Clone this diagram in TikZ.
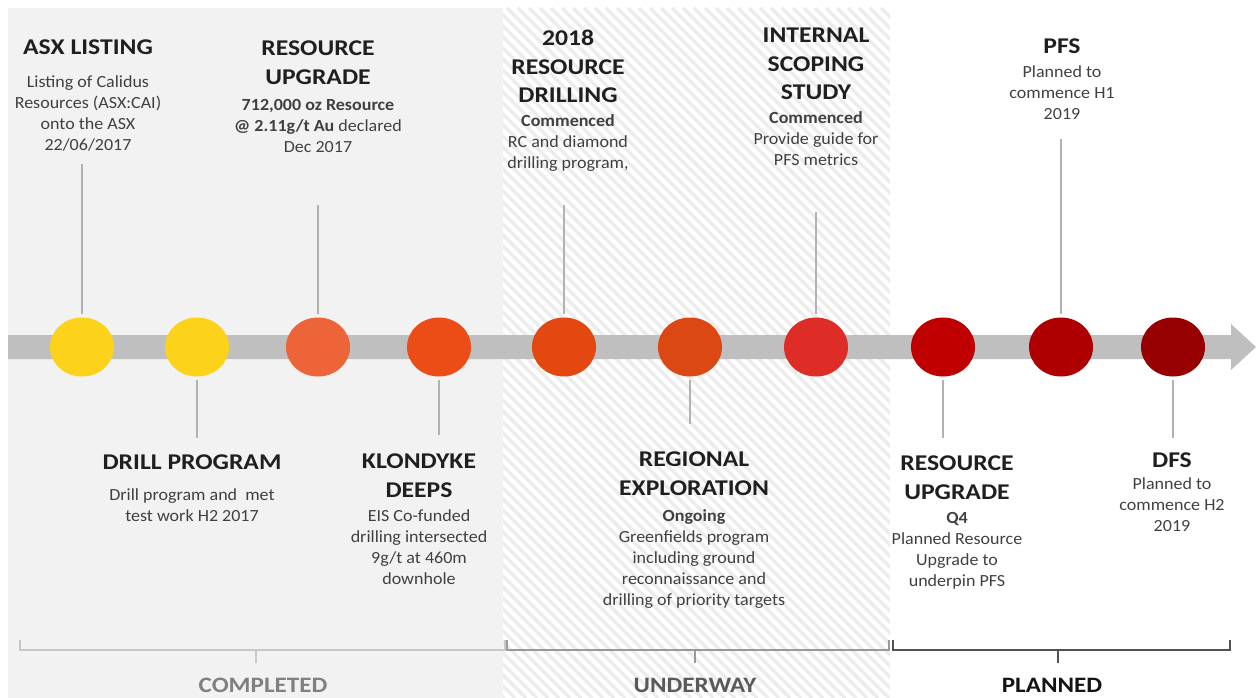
\documentclass[tikz,border=0pt]{standalone}
\usepackage{fontspec}
\setmainfont{Carlito}[FakeStretch=1.06]
\newfontfamily\headfont{Carlito}[FakeStretch=1.14]
\usetikzlibrary{positioning,shapes.geometric}

\definecolor{panelgrey}{HTML}{F2F2F2}
\definecolor{hatchgrey}{HTML}{ECECEC}
\definecolor{bargrey}{HTML}{BFBFBF}
\definecolor{m1}{HTML}{FCD31A}
\definecolor{m2}{HTML}{FCD31A}
\definecolor{m3}{HTML}{EC6437}
\definecolor{m4}{HTML}{EC4C16}
\definecolor{m5}{HTML}{E24810}
\definecolor{m6}{HTML}{DC4814}
\definecolor{m7}{HTML}{DE2D26}
\definecolor{m8}{HTML}{C00000}
\definecolor{m9}{HTML}{AE0000}
\definecolor{m10}{HTML}{960000}

\tikzset{
  headline/.style={font=\headfont\bfseries\fontsize{22.5}{28.5}\selectfont,
    align=center, inner sep=0pt, text=black!88, anchor=north},
  blurb/.style={font=\fontsize{17}{21}\selectfont, align=center,
    inner sep=0pt, text=black!75},
  milestone/.style={ellipse, minimum width=64pt, minimum height=59pt,
    inner sep=0pt},
  stemline/.style={draw=black!30, line width=1.4pt, shorten >=3pt},
  hatch/.style={draw=hatchgrey, line width=3.2pt},
  phaseline/.style={line width=1.5pt},
  phase/.style={font=\headfont\bfseries\fontsize{22}{26}\selectfont,
    inner sep=0pt}
}

\begin{document}
\begin{tikzpicture}[x=1pt,y=-1pt]
  \useasboundingbox (0,0) rectangle (1256,698);
  \fill[panelgrey] (8,8) rectangle (503,698);
  \begin{scope}
    \clip (503,8) rectangle (890,698);
    \foreach \k in {-700,-689,...,400}
      \draw[hatch] (503+\k,8) -- ++(690,690);
  \end{scope}
  \fill[bargrey] (8,335) -- (1231,335) -- (1231,324) -- (1256,347)
    -- (1231,370) -- (1231,359) -- (8,359) -- cycle;

  \node[milestone, fill=m1] (c1) at (82,347) {};
  \node[milestone, fill=m2] (c2) at (197,347) {};
  \node[milestone, fill=m3] (c3) at (318,347) {};
  \node[milestone, fill=m4] (c4) at (439,347) {};
  \node[milestone, fill=m5] (c5) at (564,347) {};
  \node[milestone, fill=m6] (c6) at (690,347) {};
  \node[milestone, fill=m7] (c7) at (816,347) {};
  \node[milestone, fill=m8] (c8) at (943,347) {};
  \node[milestone, fill=m9] (c9) at (1061,347) {};
  \node[milestone, fill=m10] (c10) at (1173,347) {};

  \coordinate (s1) at (82,164);
  \coordinate (s2) at (197,438);
  \coordinate (s3) at (318,205);
  \coordinate (s4) at (439,435);
  \coordinate (s5) at (564,205);
  \coordinate (s6) at (690,424);
  \coordinate (s7) at (816,212);
  \coordinate (s8) at (943,438);
  \coordinate (s9) at (1061,139);
  \coordinate (s10) at (1173,438);
  \foreach \i in {1,...,10}
    \draw[stemline] (s\i) -- (c\i);

  \node[headline] (t1) at (88,40) {ASX LISTING};
  \node[blurb, below=20pt of t1] (b1)
    {Listing of Calidus\\Resources (ASX:CAI)\\onto the ASX\\22/06/2017};
  \node[headline] (t3) at (318,41) {RESOURCE\\UPGRADE};
  \node[blurb, below=14pt of t3] (b3)
    {\textbf{712,000 oz Resource}\\\textbf{@ 2.11g/t Au} declared\\Dec 2017};
  \node[headline] (t5) at (568,30) {2018\\RESOURCE\\DRILLING};
  \node[blurb, below=11pt of t5] (b5)
    {\textbf{Commenced}\\RC and diamond\\drilling program,};
  \node[headline] (t7) at (816,28) {INTERNAL\\SCOPING\\STUDY};
  \node[blurb, below=11pt of t7] (b7)
    {\textbf{Commenced}\\Provide guide for\\PFS metrics};
  \node[headline] (t9) at (1062,39) {PFS};
  \node[blurb, below=11pt of t9] (b9) {Planned to\\commence H1\\2019};

  \node[headline] (t2) at (192,455) {DRILL PROGRAM};
  \node[blurb, below=18pt of t2] (b2) {Drill program and~ met\\test work H2 2017};
  \node[headline] (t4) at (419,454) {KLONDYKE\\DEEPS};
  \node[blurb, below=12pt of t4] (b4)
    {EIS Co-funded\\drilling intersected\\9g/t at 460m\\downhole};
  \node[headline] (t6) at (694,452) {REGIONAL\\EXPLORATION};
  \node[blurb, below=14pt of t6] (b6)
    {\textbf{Ongoing}\\Greenfields program\\including ground\\reconnaissance and\\drilling of priority targets};
  \node[headline] (t8) at (957,456) {RESOURCE\\UPGRADE};
  \node[blurb, below=12pt of t8] (b8)
    {\textbf{Q4}\\Planned Resource\\Upgrade to\\underpin PFS};
  \node[headline] (t10) at (1172,453) {DFS};
  \node[blurb, below=9pt of t10] (b10) {Planned to\\commence H2\\2019};

  \draw[phaseline, black!22] (20,640) -- (20,650) -- (505,650) -- (505,640);
  \draw[phaseline, black!40] (507,640) -- (507,650) -- (889,650) -- (889,640);
  \draw[phaseline, black!68] (893,640) -- (893,650) -- (1230,650) -- (1230,640);
  \coordinate (k1) at (256,650);
  \coordinate (k2) at (695,650);
  \coordinate (k3) at (1058,650);
  \node[phase, text=black!50] (p1) at (263,685) {COMPLETED};
  \node[phase, text=black!65] (p2) at (695,685) {UNDERWAY};
  \node[phase, text=black!92] (p3) at (1052,685) {PLANNED};
  \draw[phaseline, black!22] (k1) -- (k1 |- 0,663);
  \draw[phaseline, black!40] (k2) -- (k2 |- 0,663);
  \draw[phaseline, black!68] (k3) -- (k3 |- 0,663);
\end{tikzpicture}
\end{document}
